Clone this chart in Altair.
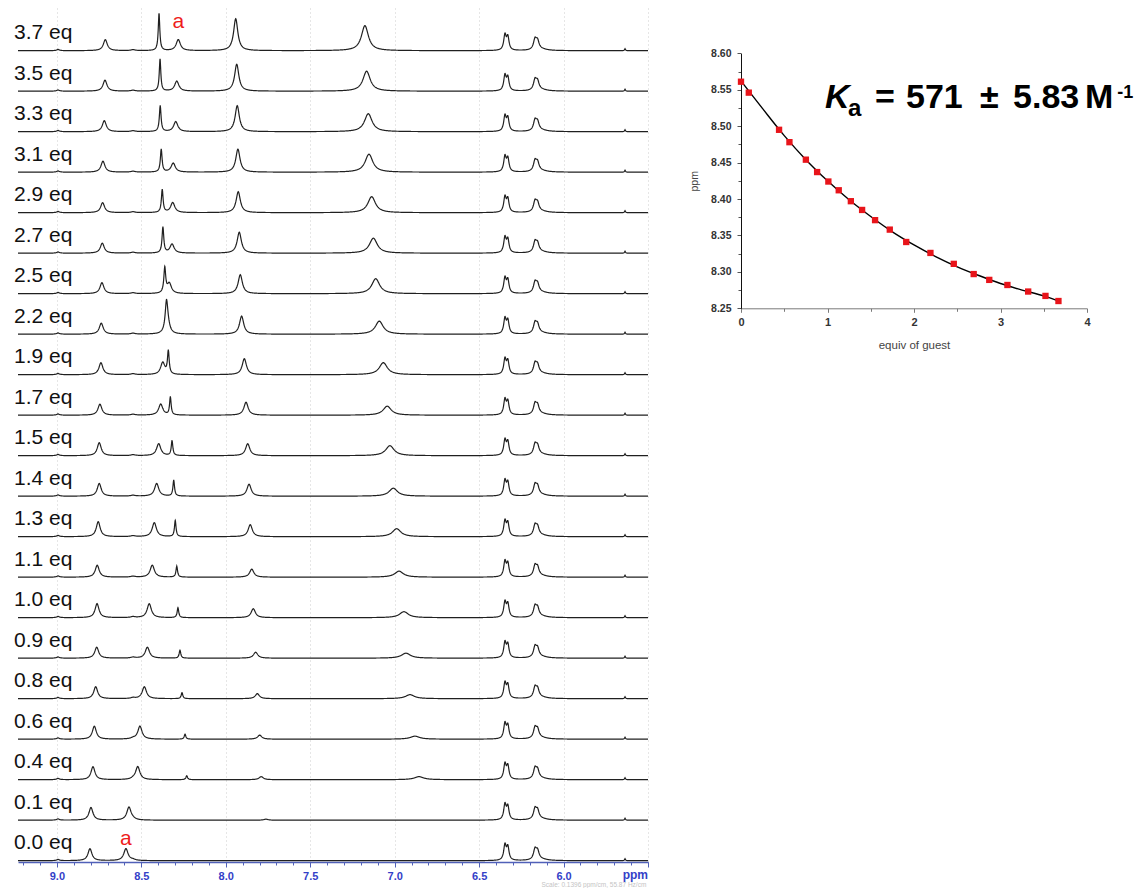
import numpy as np
import pandas as pd
import altair as alt

# ---------------- NMR titration spectra (top trace first) ----------------
eq_labels = ["3.7", "3.5", "3.3", "3.1", "2.9", "2.7", "2.5", "2.2", "1.9", "1.7",
             "1.5", "1.4", "1.3", "1.1", "1.0", "0.9", "0.8", "0.6", "0.4", "0.1", "0.0"]

# peak near 8.75 ppm
A_ppm = [8.713, 8.715, 8.719, 8.727, 8.729, 8.731, 8.733, 8.737, 8.739, 8.745,
         8.749, 8.749, 8.755, 8.761, 8.762, 8.764, 8.770, 8.778, 8.786, 8.798, 8.804]
A_h = [11, 11, 11, 11, 10, 10, 11, 11, 12, 11, 13, 12.7, 15, 12, 14, 11, 12, 13, 13, 12.7, 12]
# proton "a"
a_ppm = [8.281, 8.290, 8.296, 8.311, 8.314, 8.318, 8.334, 8.345, 8.373, 8.385,
         8.397, 8.409, 8.423, 8.435, 8.453, 8.464, 8.482, 8.508, 8.521, 8.573, 8.591]
a_h = [11, 10, 10, 9, 10, 9, 10, 10, 12, 11, 12, 12.7, 14, 12, 14, 11, 12, 13, 13, 13, 12]
# sharp guest signal
s_ppm = [8.395, 8.389, 8.388, 8.382, 8.376, 8.372, 8.361, 8.351, 8.340, 8.328,
         8.318, 8.308, 8.299, 8.290, 8.283, 8.271, 8.259, 8.241, 8.231, 8.22, 8.22]
s_h = [37, 32, 26, 23, 23, 26, 25, 26, 23, 18, 15, 16, 16, 11, 10, 8, 6, 5, 4, 0, 0]
s_w = [0.011, 0.011, 0.012, 0.012, 0.012, 0.012, 0.013, 0.018, 0.012, 0.011, 0.011,
       0.011, 0.011, 0.011, 0.011, 0.011, 0.011, 0.011, 0.011, 0.011, 0.011]
# signal near 7.9 ppm
g_ppm = [7.941, 7.935, 7.932, 7.928, 7.926, 7.920, 7.914, 7.906, 7.890, 7.880,
         7.870, 7.862, 7.855, 7.846, 7.837, 7.823, 7.813, 7.799, 7.790, 7.762, 7.76]
g_h = [32, 27, 26, 23, 21, 21, 19, 18, 16, 13, 12, 12, 12, 8, 9, 6, 5, 4, 3, 1, 0]
# broad signal near 7.1 ppm
b_ppm = [7.176, 7.166, 7.156, 7.152, 7.136, 7.126, 7.112, 7.091, 7.067, 7.044,
         7.028, 7.008, 6.988, 6.974, 6.945, 6.933, 6.909, 6.880, 6.856, 6.83, 6.82]
b_h = [25, 20, 18, 18, 16, 15, 15, 13, 12, 9, 10, 8, 8, 6, 6, 5, 4, 3, 3, 0, 0]
b_w = [0.050, 0.052, 0.054, 0.055, 0.055, 0.056, 0.056, 0.057, 0.058, 0.058, 0.060,
       0.060, 0.060, 0.062, 0.062, 0.064, 0.064, 0.066, 0.066, 0.066, 0.066]
# signals that do not move (ppm, height, width)
fixed_ppm = [6.347, 6.330, 6.169, 6.154, 6.134, 8.993, 8.549, 5.636]
fixed_h = [15, 13, 10, 8, 1.5, 1.2, 0.9, 2.0]
fixed_w = [0.017, 0.017, 0.021, 0.021, 0.08, 0.02, 0.03, 0.006]
A_w, a_w, g_w = 0.028, 0.030, 0.030
spacing = 40.5

ppm_grid = np.round(np.arange(5.50, 9.2301, 0.002), 4)
frames = []
n = len(eq_labels)
for i, lab in enumerate(eq_labels):
    peaks = [(A_ppm[i], A_h[i], A_w), (a_ppm[i], a_h[i], a_w), (s_ppm[i], s_h[i], s_w[i]),
             (g_ppm[i], g_h[i], g_w), (b_ppm[i], b_h[i], b_w[i])]
    peaks += list(zip(fixed_ppm, fixed_h, fixed_w))
    xs = np.unique(np.concatenate([ppm_grid, [p[0] for p in peaks]]))
    ys = np.zeros_like(xs)
    for x0, h, w in peaks:
        ys = ys + h / (1 + ((xs - x0) / (w / 2)) ** 2)
    off = (n - 1 - i) * spacing
    frames.append(pd.DataFrame({"eq": lab, "ppm": xs, "y": np.round(off + ys, 2)}))
spec_df = pd.concat(frames, ignore_index=True)

lab_df = pd.DataFrame({"t": [f"{e} eq" for e in eq_labels],
                       "x": 9.254,
                       "y": [(n - 1 - i) * spacing + 11.5 for i in range(n)]})
alab_df = pd.DataFrame({"t": ["a", "a"], "x": [a_ppm[0], a_ppm[-1]],
                        "y": [20 * spacing + 22.7, 15.7]})

ppm_major = [9.0, 8.5, 8.0, 7.5, 7.0, 6.5, 6.0, 5.5]
ppm_minor = [round(9.2 - 0.1 * k, 1) for k in range(38)]

BLUE = "#3340c8"
AXBLUE = "#5060b8"


def xs_left():
    return alt.Scale(domain=[5.5, 9.23], range=[640, 10], nice=False, zero=False)


ys_left = alt.Scale(domain=[-1.3, 852.7], range=[854, 0], nice=False, zero=False)

left_axis = alt.Axis(orient="bottom", values=ppm_major, title=None,
                     labelExpr="datum.value < 5.6 ? '' : format(datum.value, '.1f')",
                     tickSize=5, grid=True, gridColor="#cccccc", gridDash=[1, 3],
                     domainColor=AXBLUE, domainWidth=1.6, tickColor=AXBLUE,
                     labelColor=BLUE, labelFontSize=11, labelFontWeight="bold",
                     labelPadding=3, labelOverlap=False, labelFlush=False)

spectra = alt.Chart(spec_df).mark_line(color="#202020", strokeWidth=1.2).encode(
    x=alt.X("ppm:Q", scale=xs_left(), axis=left_axis),
    y=alt.Y("y:Q", scale=ys_left, axis=None),
    detail="eq:N",
)
eq_text = alt.Chart(lab_df).mark_text(align="left", baseline="alphabetic", fontSize=21,
                                      color="#111111").encode(
    x="x:Q", y="y:Q", text="t:N")
a_text = alt.Chart(alab_df).mark_text(align="center", baseline="alphabetic", fontSize=21,
                                      color="#ee1c1c").encode(
    x="x:Q", y="y:Q", text="t:N")
ppm_text = alt.Chart(pd.DataFrame({"t": ["ppm"]})).mark_text(
    align="right", baseline="alphabetic", fontSize=12, fontWeight="bold", color=BLUE).encode(
    x=alt.datum(5.5), y=alt.value(871), text="t:N")
scale_text = alt.Chart(pd.DataFrame({"t": ["Scale: 0.1396 ppm/cm, 55.87 Hz/cm"]})).mark_text(
    align="right", baseline="alphabetic", fontSize=6.5, color="#c4c4c4").encode(
    x=alt.datum(5.51), y=alt.value(879), text="t:N")

left = alt.layer(spectra, eq_text, a_text, ppm_text, scale_text)

left_minor = alt.Chart(pd.DataFrame({"v": ppm_minor})).mark_point(opacity=0).encode(
    x=alt.X("v:Q", scale=xs_left(),
            axis=alt.Axis(orient="bottom", values=ppm_minor, labels=False, domain=False,
                          grid=False, tickSize=3, tickColor=AXBLUE, title=None)))

# ---------------- binding isotherm ----------------
equiv = [0.0, 0.09, 0.44, 0.56, 0.75, 0.88, 1.01, 1.13, 1.27, 1.40, 1.55,
         1.72, 1.91, 2.19, 2.46, 2.69, 2.87, 3.08, 3.32, 3.52, 3.67]
shift = [8.561, 8.546, 8.495, 8.478, 8.454, 8.437, 8.424, 8.412, 8.397, 8.385, 8.371,
         8.358, 8.341, 8.326, 8.311, 8.297, 8.289, 8.282, 8.273, 8.267, 8.260]
fit_equiv = [0.0, 0.25, 0.5, 0.75, 1.0, 1.25, 1.5, 1.75, 2.0, 2.25, 2.5, 2.75, 3.0, 3.25, 3.5, 3.65]
fit_shift = [8.562, 8.524, 8.487, 8.454, 8.425, 8.399, 8.376, 8.355, 8.337, 8.321, 8.307,
             8.295, 8.284, 8.275, 8.267, 8.261]
x_ticks = [0, 0.5, 1, 1.5, 2, 2.5, 3, 3.5, 4]
y_ticks = [round(8.25 + 0.025 * k, 3) for k in range(15)]

xs_right = alt.Scale(domain=[0, 4], range=[733, 1079], nice=False, zero=False)
ys_right = alt.Scale(domain=[8.25, 8.60], range=[300.3, 45.3], nice=False, zero=False)

rx_axis = alt.Axis(orient="bottom", offset=300.3 - 854, values=x_ticks, title="equiv of guest",
                   labelExpr="datum.value % 1 == 0 ? format(datum.value, 'd') : ''",
                   tickSize={"condition": {"test": "datum.value % 1 == 0", "value": 4}, "value": 3},
                   domainColor="#7a7a7a", tickColor="#7a7a7a", labelColor="#333333",
                   labelFontSize=11, labelFontWeight="bold", labelPadding=4,
                   titleFontSize=11.5, titleFontWeight="normal", titleColor="#444444",
                   titlePadding=12, grid=False, labelFlush=False)
ymaj = "abs(datum.value*20 - round(datum.value*20)) < 0.01"
ry_axis = alt.Axis(orient="left", offset=-733, values=y_ticks, title="ppm",
                   labelExpr=f"{ymaj} ? format(datum.value, '.2f') : ''",
                   tickSize={"condition": {"test": ymaj, "value": 4}, "value": 3},
                   domainColor="#111111", tickColor="#555555", labelColor="#333333",
                   labelFontSize=10.5, labelFontWeight="bold", labelPadding=6,
                   titleFontSize=10.5, titleFontWeight="normal", titleColor="#444444",
                   titlePadding=11, grid=False, labelFlush=False)

fit_df = pd.DataFrame({"x": fit_equiv, "y": fit_shift})
pts_df = pd.DataFrame({"x": equiv, "y": shift})

curve = alt.Chart(fit_df).mark_line(color="black", strokeWidth=1.4, interpolate="monotone").encode(
    x=alt.X("x:Q", scale=xs_right, axis=rx_axis),
    y=alt.Y("y:Q", scale=ys_right, axis=ry_axis))
pts = alt.Chart(pts_df).mark_square(size=40, color="#e8141a", opacity=1).encode(x="x:Q", y="y:Q")

k_df = pd.DataFrame({"t": ["K"], "x": [0.971], "y": [8.5245]})
sub_df = pd.DataFrame({"t": ["a"], "x": [1.237], "y": [8.514]})
main_df = pd.DataFrame({"t": ["=", "571", "±", "5.83", "M"],
                        "x": [1.549, 1.908, 2.763, 3.145, 3.977],
                        "y": [8.5245] * 5})
sup_df = pd.DataFrame({"t": ["-1"], "x": [4.35], "y": [8.539]})

k_text = alt.Chart(k_df).mark_text(align="left", baseline="alphabetic", fontSize=34,
                                   fontWeight="bold", fontStyle="italic", color="black").encode(
    x="x:Q", y="y:Q", text="t:N")
sub_text = alt.Chart(sub_df).mark_text(align="left", baseline="alphabetic", fontSize=24,
                                       fontWeight="bold", color="black").encode(
    x="x:Q", y="y:Q", text="t:N")
main_text = alt.Chart(main_df).mark_text(align="left", baseline="alphabetic", fontSize=34,
                                         fontWeight="bold", color="black").encode(
    x="x:Q", y="y:Q", text="t:N")
sup_text = alt.Chart(sup_df).mark_text(align="left", baseline="alphabetic", fontSize=18,
                                       fontWeight="bold", color="black").encode(
    x="x:Q", y="y:Q", text="t:N")

right = alt.layer(curve, pts, k_text, sub_text, main_text, sup_text)

chart = alt.layer(left, left_minor, right).resolve_scale(
    x="independent", y="independent").properties(
    width=1132, height=854, padding=0
).configure(font="Liberation Sans").configure_view(strokeWidth=0)

chart.save("out.html", embed_options={"renderer": "svg", "actions": False})
